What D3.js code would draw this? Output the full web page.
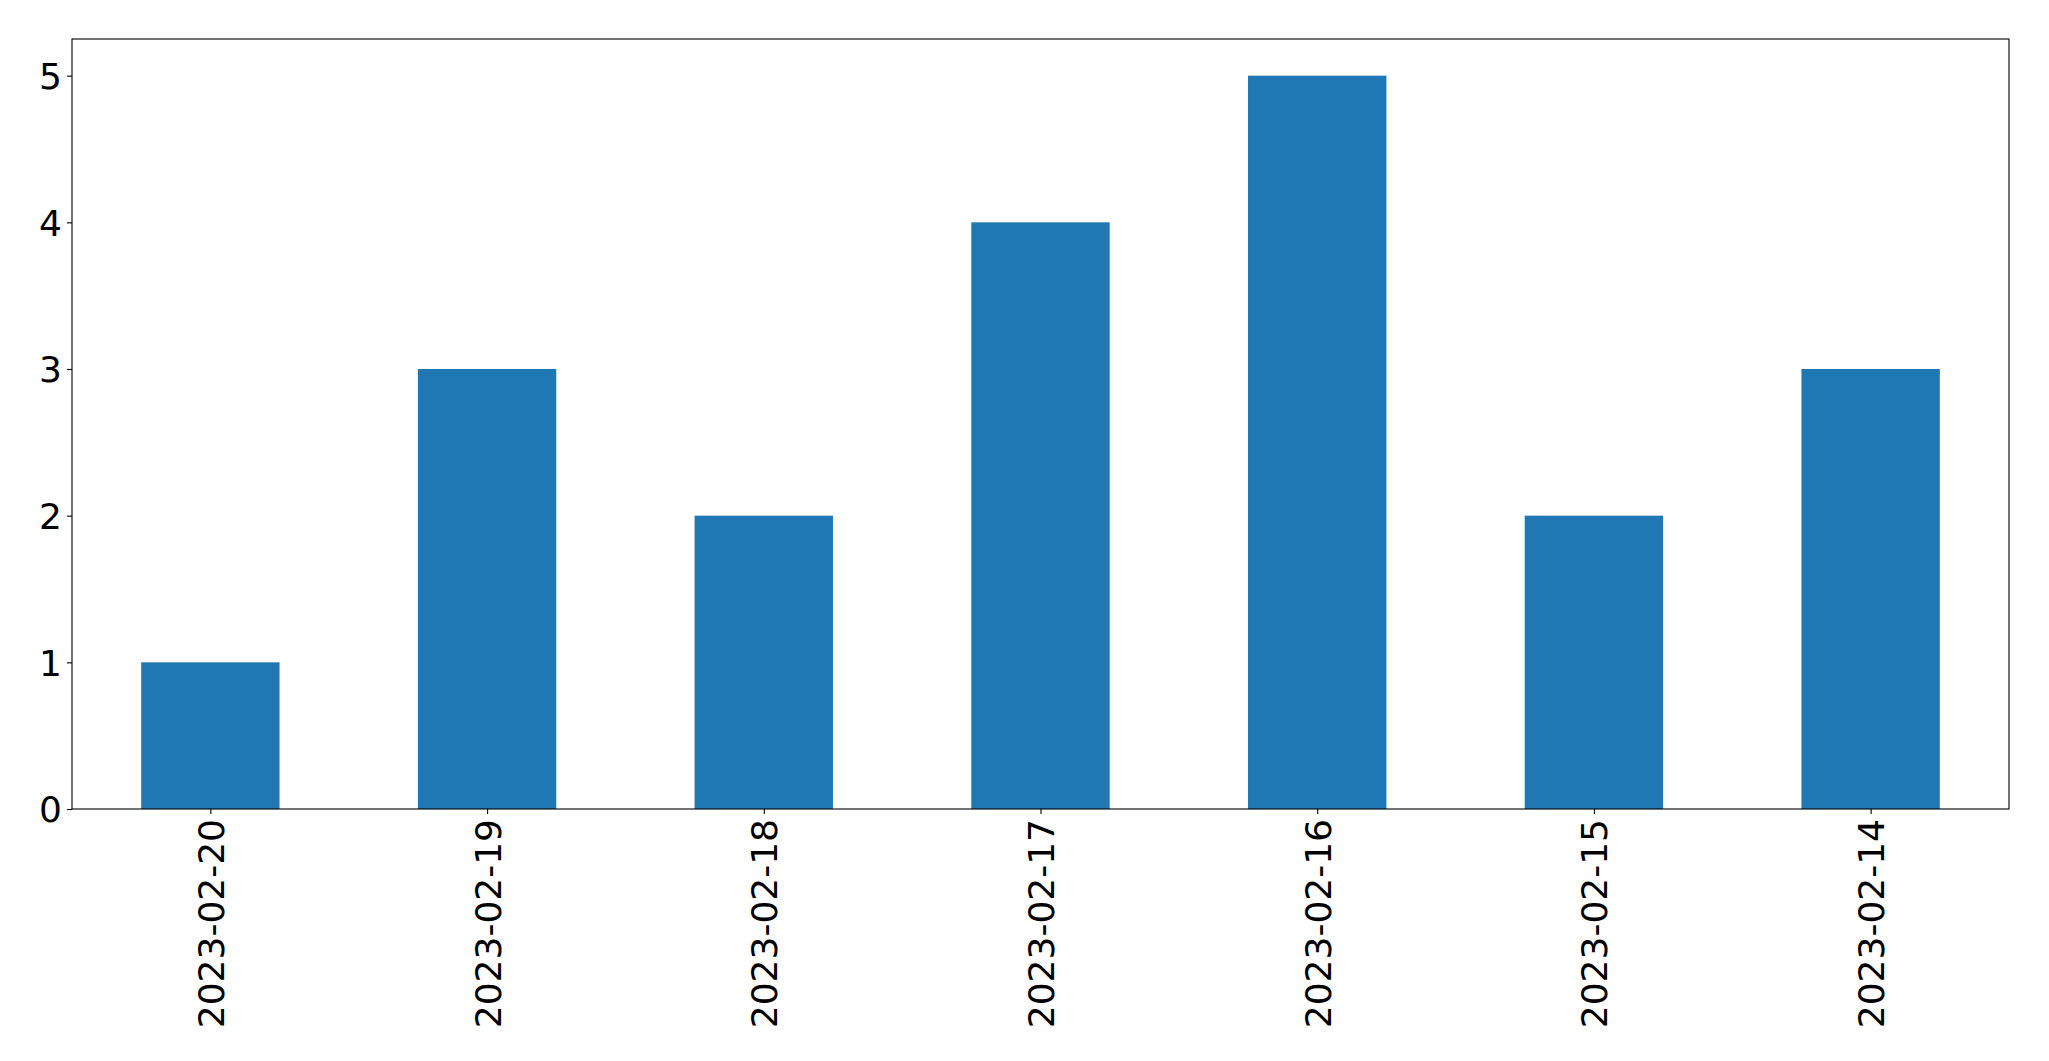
<!DOCTYPE html>
<html>
<head>
<meta charset="utf-8">
<script src="https://cdn.jsdelivr.net/npm/d3@7"></script>
<style>
  html, body { margin: 0; padding: 0; background: #fff; }
  svg { display: block; }
  text { font-family: "DejaVu Sans", sans-serif; fill: #000; }
</style>
</head>
<body>
<svg id="chart" width="2049" height="1061"></svg>
<script>
const categories = ["2023-02-20", "2023-02-19", "2023-02-18", "2023-02-17", "2023-02-16", "2023-02-15", "2023-02-14"];
const values = [1, 3, 2, 4, 5, 2, 3];
const yTicks = [0, 1, 2, 3, 4, 5];

const W = 2049, H = 1061;
const margin = { left: 72, right: W - 2009, top: 39, bottom: H - 809 };
const plotW = W - margin.left - margin.right;
const plotH = H - margin.top - margin.bottom;

const svg = d3.select("#chart");
const g = svg.append("g").attr("transform", `translate(${margin.left},${margin.top})`);

// index-based linear scale (matplotlib-style xlim -0.5..n-0.5)
const x = d3.scaleLinear().domain([-0.5, categories.length - 0.5]).range([0, plotW]);
const y = d3.scaleLinear().domain([0, 5.25]).range([plotH, 0]);
const barW = x(0.25) - x(-0.25);

g.selectAll("rect.bar")
  .data(values)
  .join("rect")
  .attr("class", "bar")
  .attr("x", (d, i) => x(i) - barW / 2)
  .attr("y", d => y(d))
  .attr("width", barW)
  .attr("height", d => y(0) - y(d))
  .attr("fill", "#1f77b4");

const fontSize = 36;

// y axis
const yAxis = d3.axisLeft(y).tickValues(yTicks).tickFormat(d3.format("d")).tickSize(5).tickPadding(5);
const yg = g.append("g").call(yAxis);
yg.select(".domain").remove();
yg.selectAll(".tick line").attr("stroke", "#000").attr("stroke-width", 1.1);
yg.selectAll(".tick text").style("font-size", fontSize + "px").attr("dy", "0.36em")
  .style("font-family", "'DejaVu Sans', sans-serif");

// x axis
const xAxis = d3.axisBottom(x).tickValues(d3.range(categories.length)).tickFormat(i => categories[i]).tickSize(5).tickPadding(5);
const xg = g.append("g").attr("transform", `translate(0,${plotH})`).call(xAxis);
xg.select(".domain").remove();
xg.selectAll(".tick line").attr("stroke", "#000").attr("stroke-width", 1.1);
xg.selectAll(".tick text")
  .style("font-size", fontSize + "px")
  .style("font-family", "'DejaVu Sans', sans-serif")
  .attr("text-anchor", "end")
  .attr("transform", "translate(0,10) rotate(-90)")
  .attr("x", 0)
  .attr("y", 0)
  .attr("dy", "0.36em");

// frame
g.append("rect")
  .attr("x", 0).attr("y", 0)
  .attr("width", plotW).attr("height", plotH)
  .attr("fill", "none")
  .attr("stroke", "#000")
  .attr("stroke-width", 1.1);
</script>
</body>
</html>
